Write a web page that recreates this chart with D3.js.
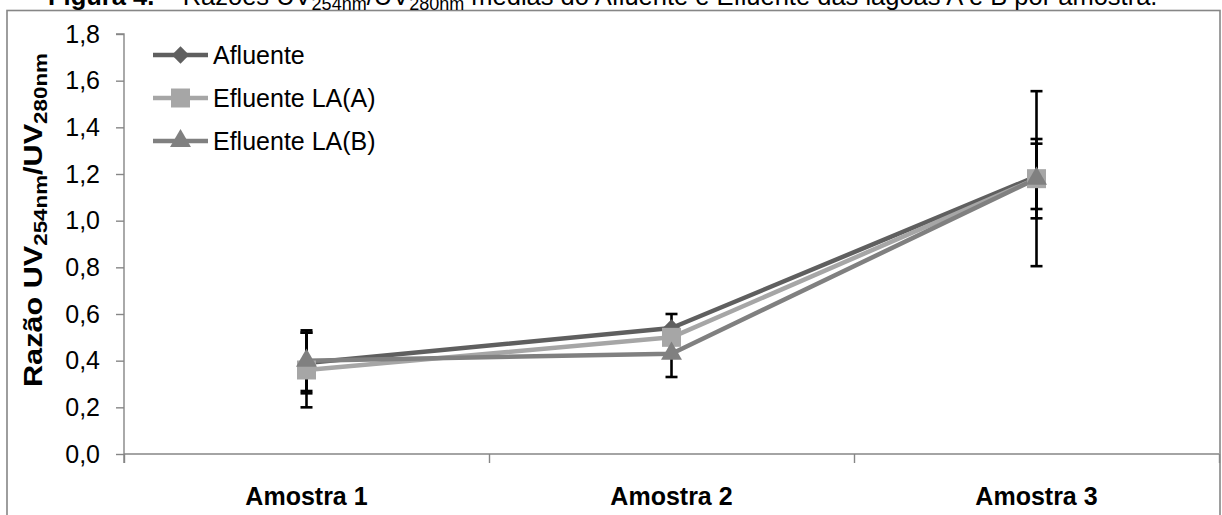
<!DOCTYPE html>
<html><head><meta charset="utf-8">
<script src="https://cdn.jsdelivr.net/npm/d3@7"></script>
<style>
body{margin:0;background:#fff;}
svg{display:block;font-family:"Liberation Sans",Arial,sans-serif;}
</style>
</head><body>
<svg id="c" width="1222" height="515"></svg>
<script>
// ---- data ----
const categories = ["Amostra 1", "Amostra 2", "Amostra 3"];
const seriesNames = ["Afluente", "Efluente LA(A)", "Efluente LA(B)"];
const afluente   = [0.39, 0.54, 1.19];
const efluenteA  = [0.36, 0.50, 1.18];
const efluenteB  = [0.40, 0.43, 1.18];
const errAfluente  = [0.13, 0.06, 0.14];
const errEfluenteA = [0.16, 0.03, 0.375];
const errEfluenteB = [0.13, 0.10, 0.17];
const yTickValues = [0, 0.2, 0.4, 0.6, 0.8, 1.0, 1.2, 1.4, 1.6, 1.8];

// ---- styling ----
const colors = ["#5f5f5f", "#a6a6a6", "#808080"];
const diamond = {draw(ctx, size){const r=Math.sqrt(size/2);ctx.moveTo(0,-r);ctx.lineTo(r,0);ctx.lineTo(0,r);ctx.lineTo(-r,0);ctx.closePath();}};
const shapes = [d3.symbol().type(diamond).size(150), d3.symbol().type(d3.symbolSquare).size(361), d3.symbol().type(d3.symbolTriangle).size(190)];

const series = [
  {name: seriesNames[0], values: afluente, err: errAfluente},
  {name: seriesNames[1], values: efluenteA, err: errEfluenteA},
  {name: seriesNames[2], values: efluenteB, err: errEfluenteB}
];

const svg = d3.select("#c");
const pLeft = 124, pRight = 1219, pTop = 34, pBottom = 454;
const x = d3.scaleBand().domain(categories).range([pLeft, pRight]);
const y = d3.scaleLinear().domain([0, 1.8]).range([pBottom, pTop]);
const cx = c => x(c) + x.bandwidth() / 2;
const axisCol = "#868686";
const fmt = v => d3.format(".1f")(v).replace(".", ",");

// frame
svg.append("rect").attr("x", 7).attr("y", 10.5).attr("width", 1213).attr("height", 540)
  .attr("fill", "none").attr("stroke", axisCol).attr("stroke-width", 1.6);

// title (cut off at top, as in the reference)
const title = svg.append("text").attr("x", 48).attr("y", 5).attr("font-size", 25.5).attr("fill", "#000");
title.append("tspan").attr("font-weight", "bold").text("Figura 4.");
title.append("tspan").text(" – Razões UV");
title.append("tspan").attr("font-size", 18).attr("dy", 5).text("254nm");
title.append("tspan").attr("dy", -5).text("/UV");
title.append("tspan").attr("font-size", 18).attr("dy", 5).text("280nm");
title.append("tspan").attr("dy", -5).text(" médias do Afluente e Efluente das lagoas A e B por amostra.");

// y axis
const yAxis = d3.axisLeft(y).tickValues(yTickValues).tickFormat(fmt).tickSize(8).tickPadding(16);
const gy = svg.append("g").attr("transform", `translate(${pLeft},0)`).call(yAxis);
gy.select(".domain").attr("stroke", axisCol).attr("stroke-width", 1.4).attr("d", `M-8,${pTop}H0V${pBottom + 9}`);
gy.selectAll(".tick line").attr("stroke", axisCol).attr("stroke-width", 1.4);
gy.selectAll(".tick text").attr("font-size", 25).attr("fill", "#000").attr("font-family", "Liberation Sans, Arial, sans-serif");

// x axis
const boundaries = categories.map(c => x(c)).concat([pRight]);
const xAxis = d3.axisBottom(d3.scaleLinear().domain([pLeft, pRight]).range([pLeft, pRight]))
  .tickValues(boundaries).tickSize(9).tickFormat("");
const gx = svg.append("g").attr("transform", `translate(0,${pBottom})`).call(xAxis);
gx.select(".domain").attr("stroke", axisCol).attr("stroke-width", 1.4).attr("d", `M${pLeft},0H${pRight}`);
gx.selectAll(".tick line").attr("stroke", axisCol).attr("stroke-width", 1.4);
svg.append("g").selectAll("text").data(categories).join("text")
  .attr("x", d => cx(d)).attr("y", 505).attr("text-anchor", "middle")
  .attr("font-size", 25).attr("font-weight", "bold").attr("fill", "#000").text(d => d);

// y title
const yt = svg.append("text").attr("transform", "translate(42,220) rotate(-90)")
  .attr("text-anchor", "middle").attr("font-size", 26).attr("font-weight", "bold").attr("fill", "#000")
  .attr("textLength", 334).attr("lengthAdjust", "spacingAndGlyphs");
yt.append("tspan").text("Razão UV");
yt.append("tspan").attr("font-size", 19).attr("dy", 5).text("254nm");
yt.append("tspan").attr("dy", -5).text("/UV");
yt.append("tspan").attr("font-size", 19).attr("dy", 5).text("280nm");

// lines
const line = d3.line().x((d, i) => cx(categories[i])).y(d => y(d));
svg.append("g").selectAll("path").data(series).join("path")
  .attr("d", s => line(s.values)).attr("fill", "none")
  .attr("stroke", (s, i) => colors[i]).attr("stroke-width", 4.5).attr("stroke-linejoin", "round");

// error bars
const eg = svg.append("g").attr("stroke", "#000").attr("stroke-width", 2.6);
series.forEach(s => {
  s.values.forEach((v, i) => {
    const xc = cx(categories[i]);
    const lo = y(v - s.err[i]), hi = y(v + s.err[i]);
    eg.append("line").attr("x1", xc).attr("x2", xc).attr("y1", lo).attr("y2", hi);
    eg.append("line").attr("x1", xc - 6).attr("x2", xc + 6).attr("y1", lo).attr("y2", lo);
    eg.append("line").attr("x1", xc - 6).attr("x2", xc + 6).attr("y1", hi).attr("y2", hi);
  });
});

// markers
series.forEach((s, si) => {
  svg.append("g").selectAll("path").data(s.values).join("path")
    .attr("transform", (v, i) => `translate(${cx(categories[i])},${y(v)})`)
    .attr("d", shapes[si]()).attr("fill", colors[si]);
});

// legend
const lg = svg.append("g");
series.forEach((s, i) => {
  const ly = 55 + i * 43;
  lg.append("line").attr("x1", 153).attr("x2", 208).attr("y1", ly).attr("y2", ly)
    .attr("stroke", colors[i]).attr("stroke-width", 4.5);
  lg.append("path").attr("transform", `translate(180.5,${ly})`).attr("d", shapes[i]()).attr("fill", colors[i]);
  lg.append("text").attr("x", 213).attr("y", ly).attr("dy", "0.36em").attr("font-size", 25)
    .attr("fill", "#000").text(s.name);
});
</script>
</body></html>
